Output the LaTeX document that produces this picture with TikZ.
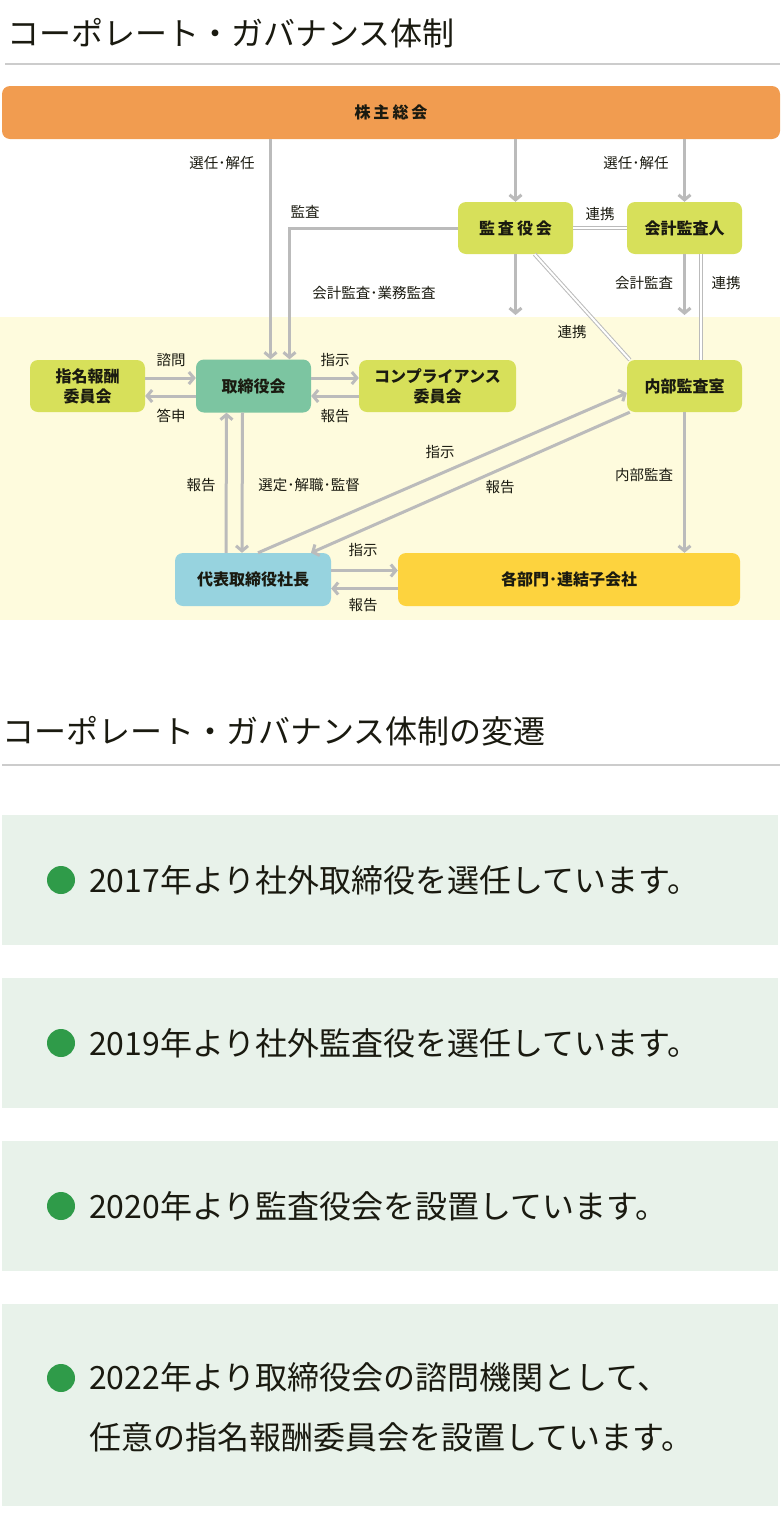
\documentclass[tikz,border=0pt]{standalone}
\usepackage{fontspec}
\setmainfont{Noto Sans CJK JP}
\usetikzlibrary{arrows.meta,positioning,calc}
\definecolor{kabuorange}{RGB}{241,156,80}
\definecolor{leafy}{RGB}{215,224,90}
\definecolor{mint}{RGB}{124,197,161}
\definecolor{sky}{RGB}{151,211,223}
\definecolor{gold}{RGB}{253,211,62}
\definecolor{cream}{RGB}{254,251,221}
\definecolor{pale}{RGB}{232,242,234}
\definecolor{dotgreen}{RGB}{47,155,73}
\definecolor{wire}{RGB}{187,187,187}
\definecolor{rulegray}{RGB}{204,204,204}
\definecolor{ink}{RGB}{26,26,16}
\tikzset{
  orgbox/.style={rounded corners=8pt,inner sep=0pt,align=center,text=ink,
    font=\fontsize{16}{20}\selectfont\bfseries},
  lbl/.style={inner sep=0pt,text=ink,font=\fontsize{14.5}{16}\selectfont},
  arr/.style={draw=wire,line width=3pt,-{Straight Barb[length=5pt,width=12pt]}},
  link/.style={draw=wire,line width=1pt,double=white,double distance=2pt},
  heading/.style={inner sep=0pt,anchor=west,text=ink,font=\fontsize{32}{38}\selectfont},
}

\begin{document}
\begin{tikzpicture}[x=1pt,y=-1pt]
  \useasboundingbox (0,0) rectangle (780,1526);
  % upper part
  \node[heading] (title1) at (7,33) {コーポレート・ガバナンス体制};
  \draw[rulegray,line width=2pt] (5,64) -- (780,64);
  \fill[cream] (0,317) rectangle (780,620);

  \node[orgbox,fill=kabuorange,minimum width=778pt,minimum height=53pt] (kabu) at (391,112.5) {株\hspace{3pt}主\hspace{3pt}総\hspace{3pt}会};
  \node[orgbox,fill=leafy,minimum width=115pt,minimum height=52pt] (kansa) at (515.5,228) {監\hspace{3pt}査\hspace{3pt}役\hspace{3pt}会};
  \node[orgbox,fill=leafy,minimum width=115pt,minimum height=52pt] (kaikei) at (684.5,228) {会計監査人};
  \node[orgbox,fill=leafy,minimum width=115pt,minimum height=52pt] (shimei) at (87.5,386) {指名報酬\\委員会};
  \node[orgbox,fill=mint,minimum width=115pt,minimum height=53pt] (torishimari) at (253.5,386) {取締役会};
  \node[orgbox,fill=leafy,minimum width=157pt,minimum height=52pt] (compl) at (437.5,386) {コンプライアンス\\委員会};
  \node[orgbox,fill=leafy,minimum width=115pt,minimum height=52pt] (naibu) at (684.5,386) {内部監査室};
  \node[orgbox,fill=sky,minimum width=156pt,minimum height=53pt] (daihyo) at (253,579.5) {代表取締役社長};
  \node[orgbox,fill=gold,minimum width=342pt,minimum height=53pt] (kakubu) at (569,579.5) {各部門･連結子会社};

  \coordinate (kansaEnd) at (515.5,315);
  \coordinate (kaikeiEnd) at (684.5,315);

  % connectors
  \draw[arr] ([xshift=17pt]torishimari.north |- kabu.south) -- ([xshift=17pt]torishimari.north);
  \draw[arr] (kansa.north |- kabu.south) -- (kansa.north);
  \draw[arr] (kaikei.north |- kabu.south) -- (kaikei.north);
  \draw[arr] (kansa.west) -| ([xshift=36pt]torishimari.north);
  \draw[arr] (kansa.south) -- (kansaEnd);
  \draw[arr] (kaikei.south) -- (kaikeiEnd);
  \draw[link] (kansa.east) -- (kaikei.west);
  \draw[link] ([xshift=16pt]kaikei.south) -- ([xshift=16pt]kaikei.south |- naibu.north);
  \draw[link] ([xshift=19pt]kansa.south) -- ([xshift=3pt]naibu.north west);
  \draw[arr] ([yshift=8pt]shimei.east) -- ([yshift=8pt]torishimari.west);
  \draw[arr] ([yshift=-10pt]torishimari.west) -- ([yshift=-10pt]shimei.east);
  \draw[arr] ([yshift=8pt]torishimari.east) -- ([yshift=8pt]compl.west);
  \draw[arr] ([yshift=-10pt]compl.west) -- ([yshift=-10pt]torishimari.east);
  \draw[arr] ([xshift=-27pt]daihyo.north) -- ([xshift=-27pt]torishimari.south);
  \draw[arr] ([xshift=-11pt]torishimari.south) -- ([xshift=-11pt]daihyo.north);
  \draw[arr] ([xshift=5pt]daihyo.north) -- ([yshift=-7pt]naibu.west);
  \draw[arr] ([xshift=3pt]naibu.south west) -- ([xshift=58pt]daihyo.north);
  \draw[arr] ([yshift=9pt]daihyo.east) -- ([yshift=9pt]kakubu.west);
  \draw[arr] ([yshift=-9pt]kakubu.west) -- ([yshift=-9pt]daihyo.east);
  \draw[arr] (naibu.south) -- (naibu.south |- kakubu.north);

  % labels
  \node[lbl] (l1) at (222,163) {選任･解任};
  \node[lbl] (l2) at (636,163) {選任･解任};
  \node[lbl] (l3) at (305,212) {監査};
  \node[lbl] (l4) at (600,214) {連携};
  \node[lbl] (l5) at (374,293) {会計監査･業務監査};
  \node[lbl] (l6) at (644,283) {会計監査};
  \node[lbl] (l7) at (726,283) {連携};
  \node[lbl] (l8) at (572,332) {連携};
  \node[lbl] (l9) at (171,360) {諮問};
  \node[lbl] (l10) at (171,416) {答申};
  \node[lbl] (l11) at (335,360) {指示};
  \node[lbl] (l12) at (335,416) {報告};
  \node[lbl] (l13) at (201,485) {報告};
  \node[lbl] (l14) at (309,485) {選定･解職･監督};
  \node[lbl] (l15) at (440,452) {指示};
  \node[lbl] (l16) at (500,487) {報告};
  \node[lbl] (l17) at (644,475) {内部監査};
  \node[lbl] (l18) at (363,550) {指示};
  \node[lbl] (l19) at (363,605) {報告};

  % lower part
  \node[heading] (title2) at (2,731) {コーポレート・ガバナンス体制の変遷};
  \draw[rulegray,line width=2pt] (2,765) -- (780,765);
  \foreach \top/\bot/\t [count=\i] in {
      815/945/2017年より社外取締役を選任しています。,
      978/1108/2019年より社外監査役を選任しています。,
      1141/1271/2020年より監査役会を設置しています。}
  {
    \fill[pale] (2,\top) rectangle (778,\bot);
    \fill[dotgreen] (61,{(\top+\bot)/2}) circle (14);
    \node[anchor=west,inner sep=0pt,text=ink,font=\fontsize{32}{38}\selectfont] (hist\i) at (89,{(\top+\bot)/2}) {\t};
  }
  \fill[pale] (2,1304) rectangle (778,1506);
  \fill[dotgreen] (61,1378) circle (14);
  \node[anchor=west,inner sep=0pt,text=ink,align=left,font=\fontsize{32}{60}\selectfont] (hist4) at (89,1407) {2022年より取締役会の諮問機関として、\\任意の指名報酬委員会を設置しています。};
\end{tikzpicture}
\end{document}
